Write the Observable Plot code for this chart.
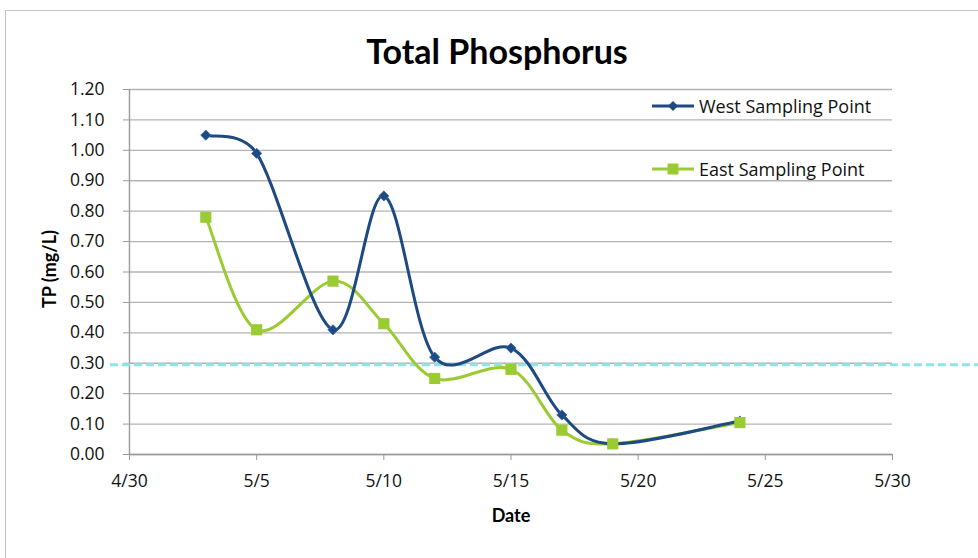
<!DOCTYPE html>
<html>
<head>
<meta charset="utf-8">
<script src="https://cdn.jsdelivr.net/npm/d3@7"></script>
<script src="https://cdn.jsdelivr.net/npm/@observablehq/plot@0.6"></script>
<style>
  html, body { margin: 0; padding: 0; background: #fff; overflow: hidden; }
  #wrap { position: relative; width: 978px; height: 558px; font-family: "Open Sans", Lato, sans-serif; }
  #border { position: absolute; left: 5px; top: 10px; width: 1000px; height: 600px; border: 1px solid #c4c4c4; box-sizing: border-box; }
  #chart { position: absolute; left: 0; top: 0; }
  .legend { position: absolute; left: 652px; font-size: 18px; color: #111; display: flex; align-items: center; white-space: nowrap; }
  .legend svg { margin-right: 4px; }
</style>
</head>
<body>
<div id="wrap">
  <div id="border"></div>
  <div id="chart"></div>
  <div class="legend" style="top:94px">
    <svg width="43" height="24"><line x1="0" y1="12" x2="42" y2="12" stroke="#1d4a80" stroke-width="3"/><path d="M21,7 L26,12 L21,17 L16,12 Z" fill="#1d4a80"/></svg>West Sampling Point
  </div>
  <div class="legend" style="top:157px">
    <svg width="43" height="24"><line x1="0" y1="12" x2="42" y2="12" stroke="#9acb32" stroke-width="3"/><rect x="15.5" y="6.5" width="11" height="11" fill="#9acb32"/></svg>East Sampling Point
  </div>
</div>
<script>
const title = "Total Phosphorus";
const xLabel = "Date";
const yLabel = "TP (mg/L)";
const seriesNames = ["West Sampling Point", "East Sampling Point"];
const sampleDates = ["2013-05-03","2013-05-05","2013-05-08","2013-05-10","2013-05-12","2013-05-15","2013-05-17","2013-05-19","2013-05-24"];
const westValues = [1.05, 0.99, 0.41, 0.85, 0.32, 0.35, 0.13, 0.035, 0.11];
const eastValues = [0.78, 0.41, 0.57, 0.43, 0.25, 0.28, 0.08, 0.035, 0.105];
const thresholdValue = [0.295];
const xTickDates = ["2013-04-30","2013-05-05","2013-05-10","2013-05-15","2013-05-20","2013-05-25","2013-05-30"];
const yTicks = [0, 0.1, 0.2, 0.3, 0.4, 0.5, 0.6, 0.7, 0.8, 0.9, 1.0, 1.1, 1.2];

const westColor = "#1d4a80";
const eastColor = "#9acb32";

const parse = d3.utcParse("%Y-%m-%d");
const west = sampleDates.map((d, i) => ({date: parse(d), value: westValues[i]}));
const east = sampleDates.map((d, i) => ({date: parse(d), value: eastValues[i]}));
const xTicks = xTickDates.map(parse);
const xDomain = [xTicks[0], xTicks[xTicks.length - 1]];
const DAY = 864e5;
// threshold line extends past the plotting frame like the reference
const thresh = thresholdValue.map(v => ({y: v, x1: new Date(+xDomain[0] - 0.75 * DAY), x2: new Date(+xDomain[1] + 3.4 * DAY)}));

// Spreadsheet-style smoothed line: Bezier segments with 1/6 tension arms, capped at half the segment length
function SmoothCurve(context) { this._context = context; }
SmoothCurve.prototype = {
  areaStart() { this._line = 0; },
  areaEnd() { this._line = NaN; },
  lineStart() { this._pts = []; },
  point(x, y) { this._pts.push([+x, +y]); },
  lineEnd() {
    const p = this._pts, n = p.length, c = this._context;
    if (!n) return;
    c.moveTo(p[0][0], p[0][1]);
    if (n === 1) return;
    const dist = (a, b) => Math.hypot(b[0] - a[0], b[1] - a[1]);
    for (let i = 0; i < n - 1; i++) {
      const P0 = p[i - 1] || p[i], P1 = p[i], P2 = p[i + 1], P3 = p[i + 2] || p[i + 1];
      const d12 = dist(P1, P2);
      let a1 = [(P2[0] - P0[0]) / 6, (P2[1] - P0[1]) / 6];
      let a2 = [(P3[0] - P1[0]) / 6, (P3[1] - P1[1]) / 6];
      const l1 = Math.hypot(a1[0], a1[1]), l2 = Math.hypot(a2[0], a2[1]);
      if (l1 > d12 / 2) { const s = d12 / 2 / l1; a1 = [a1[0] * s, a1[1] * s]; }
      if (l2 > d12 / 2) { const s = d12 / 2 / l2; a2 = [a2[0] * s, a2[1] * s]; }
      c.bezierCurveTo(P1[0] + a1[0], P1[1] + a1[1], P2[0] - a2[0], P2[1] - a2[1], P2[0], P2[1]);
    }
  }
};
const smooth = (ctx) => new SmoothCurve(ctx);

const gridColor = "#b3b3b3";
const axisColor = "#9a9a9a";

const chart = Plot.plot({
  width: 978,
  height: 558,
  marginLeft: 129,
  marginRight: 86,
  marginTop: 89,
  marginBottom: 104,
  x: {type: "utc", domain: xDomain},
  y: {domain: [0, 1.2]},
  style: {fontFamily: "'Open Sans', Lato, sans-serif", fontSize: "17px", color: "#111", background: "transparent", overflow: "visible"},
  marks: [
    Plot.gridY(yTicks, {stroke: gridColor, strokeOpacity: 1, strokeWidth: 1.4}),
    Plot.ruleX([xDomain[0]], {stroke: axisColor, strokeWidth: 1.4}),
    Plot.ruleY([0], {stroke: axisColor, strokeWidth: 1.4}),
    Plot.axisY(yTicks, {tickFormat: d3.format(".2f"), tickSize: 6, tickPadding: 19, stroke: axisColor, label: null, fontSize: 17.5}),
    Plot.axisX(xTicks, {tickFormat: d3.utcFormat("%-m/%-d"), tickSize: 6, tickPadding: 14, stroke: axisColor, label: null, fontSize: 17.5}),
    Plot.ruleY(thresh, {y: "y", x1: "x1", x2: "x2", stroke: "#8fe4e6", strokeWidth: 3, strokeDasharray: "8,4"}),
    Plot.line(east, {x: "date", y: "value", stroke: eastColor, strokeWidth: 3, curve: smooth}),
    Plot.line(west, {x: "date", y: "value", stroke: westColor, strokeWidth: 3, curve: smooth}),
    Plot.dot(west, {x: "date", y: "value", symbol: "diamond2", r: 4.6, fill: westColor, stroke: "#3a6bb0", strokeWidth: 0.8}),
    Plot.dot(east, {x: "date", y: "value", symbol: "square", r: 6.3, fill: eastColor}),
    Plot.text([title], {text: d => d, frameAnchor: "top", dx: -14, dy: -50, fontSize: 34, fontWeight: "bold", fontFamily: "Lato, sans-serif", fill: "#000"}),
    Plot.text([yLabel], {text: d => d, frameAnchor: "left", textAnchor: "middle", lineAnchor: "middle", dx: -79, dy: -3, rotate: -90, fontSize: 18, fontWeight: "bold", fontFamily: "Lato, sans-serif", fill: "#000"}),
    Plot.text([xLabel], {text: d => d, frameAnchor: "bottom", dy: 67, fontSize: 18, fontWeight: "bold", fontFamily: "Lato, sans-serif", fill: "#000"})
  ]
});
document.getElementById("chart").appendChild(chart);
</script>
</body>
</html>
